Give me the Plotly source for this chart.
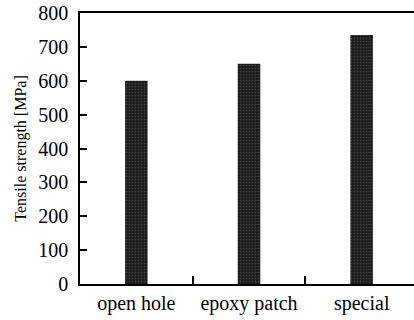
import plotly.graph_objects as go

categories = ["open hole", "epoxy patch", "special"]
strength = [600, 650, 735]
y_ticks = [0, 100, 200, 300, 400, 500, 600, 700, 800]

fig = go.Figure()
fig.add_trace(go.Bar(
    x=categories, y=strength, width=0.2,
    marker=dict(color="#222222", line=dict(width=0),
                pattern=dict(shape=".", fgcolor="#6a6a6a", bgcolor="#1c1c1c", size=3, solidity=0.25)),
))

font = "Liberation Serif, Times New Roman, serif"
fig.update_layout(
    width=418, height=320,
    margin=dict(l=80, r=0, t=13, b=36),
    paper_bgcolor="white", plot_bgcolor="white",
    showlegend=False,
    font=dict(family=font, color="black"),
    bargap=0.8,
)
fig.update_xaxes(
    range=[-0.5, 2.5], showline=True, linecolor="black", linewidth=1.5, mirror=True,
    ticks="inside", tickson="boundaries", ticklen=8, tickcolor="black", tickwidth=1.5,
    tickfont=dict(size=20, family=font), showgrid=False, automargin=False,
)
fig.update_yaxes(
    range=[0, 800], tickvals=y_ticks, showline=True, linecolor="black", linewidth=1.5,
    ticks="inside", ticklen=7, tickcolor="black", tickwidth=1.5,
    tickfont=dict(size=20, family=font), showgrid=False, zeroline=False,
    title=dict(text="Tensile strength [MPa]", font=dict(size=16, family=font), standoff=8),
    ticklabelstandoff=6, automargin=False,
)
fig.write_html(
    "out.html",
    config={"displayModeBar": False},
    post_script="document.body.style.margin='0';document.body.style.overflow='hidden';",
)
